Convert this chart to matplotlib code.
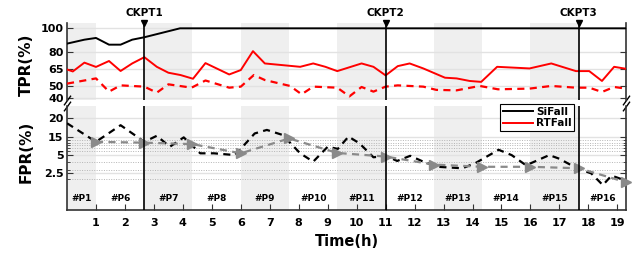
import numpy as np
import matplotlib
matplotlib.use("Agg")
import matplotlib.pyplot as plt
import matplotlib.transforms as mtransforms
from matplotlib.lines import Line2D

# ---- data ----
# periods (hours) and their labels
period_edges = [0, 1.0, 2.67, 4.33, 6.0, 7.67, 9.33, 11.0, 12.67, 14.33, 16.0, 17.67, 19.3]
period_labels = ["#P1", "#P6", "#P7", "#P8", "#P9", "#P10", "#P11",
                 "#P12", "#P13", "#P14", "#P15", "#P16"]
ckpt_x = [2.67, 11.0, 17.67]
ckpt_labels = ["CKPT1", "CKPT2", "CKPT3"]

# TPR, SiFall (black solid)
sifall_t = [0, 0.6, 1.0, 1.45, 1.85, 2.25, 2.67, 3.9, 19.3]
sifall_tpr = [86.8, 90.2, 91.7, 85.9, 85.9, 90.2, 92.3, 100, 100]

# TPR, RTFall (red solid)
rtfall_t = [0, 0.2, 0.6, 1.0, 1.45, 1.85, 2.25, 2.67, 3.1, 3.5, 3.92, 4.35, 4.78,
            5.6, 6.0, 6.42, 6.83, 8.05, 8.5, 8.92, 9.33, 10.17, 10.58, 11.0, 11.42,
            11.83, 12.3, 13.05, 13.45, 13.9, 14.3, 14.85, 15.97, 16.72, 17.57,
            18.03, 18.47, 18.89, 19.3]
rtfall_tpr = [64.5, 62.8, 70.4, 66.7, 71.8, 63.2, 69.7, 75.1, 66.8, 61.7, 59.7, 56.5, 70.0,
              60.2, 64.0, 80.3, 69.7, 66.8, 69.7, 66.8, 63.1, 69.7, 66.8, 59.4, 67.4,
              69.7, 65.4, 57.4, 56.8, 54.6, 53.8, 66.8, 65.4, 69.7, 63.1,
              63.1, 54.6, 66.8, 65.1]

# TPR, red dashed
rtfall2_t = [0, 1.0, 1.45, 1.85, 2.67, 3.1, 3.5, 4.3, 4.78, 5.6, 6.0, 6.45, 6.83, 7.7,
             8.1, 8.5, 9.33, 9.75, 10.17, 10.58, 11.0, 11.42, 12.3, 12.75, 13.45, 14.25,
             14.88, 15.97, 16.72, 17.57, 18.03, 18.47, 18.89, 19.3]
rtfall2_tpr = [52.3, 56.8, 45.4, 50.8, 49.7, 44.5, 51.7, 48.8, 55.0, 48.8, 49.7, 59.7, 55.4, 50.3,
               43.1, 49.7, 48.8, 41.3, 49.4, 45.4, 49.7, 50.8, 49.7, 46.9, 46.5, 50.3,
               47.4, 48.0, 50.3, 48.8, 48.8, 45.1, 49.4, 48.0]

# FPR, black dashed
fpr_t = [0, 1.0, 1.85, 2.67, 3.1, 3.55, 4.03, 4.6, 5.07, 5.8, 6.48, 6.9, 7.45, 8.05, 8.5,
         9.0, 9.35, 9.72, 10.1, 10.58, 11.0, 11.4, 11.85, 12.3, 12.8, 13.65, 14.1, 14.9,
         15.35, 15.85, 16.65, 17.0, 17.6, 18.1, 18.5, 18.8, 19.3]
fpr_val = [18.6, 12.5, 18.1, 12.5, 15.4, 9.7, 15.0, 6.0, 6.0, 5.0, 16.0, 16.9, 15.6, 6.0, 4.1,
           9.7, 8.5, 15.2, 11.6, 4.7, 4.9, 4.2, 4.9, 4.1, 3.4, 3.2, 3.9, 8.0,
           5.0, 3.6, 5.0, 4.5, 3.2, 2.5, 0.9, 2.2, 1.5]

# FPR per period, gray dashed with triangles
fpr_avg_t = [1.0, 2.67, 4.33, 6.0, 7.67, 9.33, 11.0, 12.67, 14.33, 16.0, 17.67, 19.3]
fpr_avg = [12.5, 12.0, 11.2, 6.0, 14.4, 6.2, 4.8, 3.7, 3.4, 3.4, 3.2, 1.3]

tpr_ticks = [40, 50, 65, 80, 100]
fpr_ticks = [2.5, 5, 15, 20]
fpr_minor = [1.7, 3, 4, 7.5, 9, 10.5, 12, 13.5]
x_ticks = list(range(1, 20))

# uneven FPR axis: tick values sit at these positions
fpr_tick_pos = [0, 18.3, 36, 55.6]


def fpr_fwd(v):
    v = np.asarray(v, dtype=float)
    out = np.interp(v, fpr_ticks, fpr_tick_pos)
    lo = (fpr_tick_pos[1] - fpr_tick_pos[0]) / (fpr_ticks[1] - fpr_ticks[0])
    hi = (fpr_tick_pos[-1] - fpr_tick_pos[-2]) / (fpr_ticks[-1] - fpr_ticks[-2])
    out = np.where(v < fpr_ticks[0], fpr_tick_pos[0] + (v - fpr_ticks[0]) * lo, out)
    out = np.where(v > fpr_ticks[-1], fpr_tick_pos[-1] + (v - fpr_ticks[-1]) * hi, out)
    return out


def fpr_inv(p):
    p = np.asarray(p, dtype=float)
    out = np.interp(p, fpr_tick_pos, fpr_ticks)
    lo = (fpr_ticks[1] - fpr_ticks[0]) / (fpr_tick_pos[1] - fpr_tick_pos[0])
    hi = (fpr_ticks[-1] - fpr_ticks[-2]) / (fpr_tick_pos[-1] - fpr_tick_pos[-2])
    out = np.where(p < fpr_tick_pos[0], fpr_ticks[0] + (p - fpr_tick_pos[0]) * lo, out)
    out = np.where(p > fpr_tick_pos[-1], fpr_ticks[-1] + (p - fpr_tick_pos[-1]) * hi, out)
    return out


plt.rcParams['font.family'] = 'DejaVu Sans'
plt.rcParams['font.weight'] = 'bold'

fig = plt.figure(figsize=(6.34, 2.56), dpi=100)
ax_t = fig.add_axes([0.1057, 0.6113, 0.8817, 0.2989])
ax_b = fig.add_axes([0.1057, 0.1797, 0.8817, 0.4062])

spine_col = '#333333'
band_col = '#efefef'
dash = (0, (3.2, 2.4))

for ax in (ax_t, ax_b):
    ax.set_xlim(0, 19.3)
    ax.set_axisbelow(True)
    for i in range(0, len(period_edges) - 1, 2):
        ax.axvspan(period_edges[i], period_edges[i + 1], color=band_col, lw=0, zorder=0.2)
    for s in ('left', 'right'):
        ax.spines[s].set_color(spine_col)
        ax.spines[s].set_linewidth(1.2)
    ax.spines['top'].set_visible(False)
    for c in ckpt_x:
        ax.axvline(c, color='black', lw=1.2, zorder=4)
    ax.tick_params(axis='y', which='both', direction='in', left=True, right=True,
                   labelsize=8, pad=2.5, color=spine_col)
    ax.tick_params(axis='y', which='major', length=4)
    ax.tick_params(axis='y', which='minor', length=2)

# ---- top panel: TPR ----
ax_t.spines['bottom'].set_visible(False)
ax_t.set_ylim(38.6, 104.6)
ax_t.set_yticks(tpr_ticks)
ax_t.set_xticks([])
ax_t.grid(axis='y', color='#e2e2e2', lw=1)
ax_t.plot(sifall_t, sifall_tpr, color='black', lw=1.4, zorder=3)
ax_t.plot(rtfall_t, rtfall_tpr, color='red', lw=1.4, zorder=3)
ax_t.plot(rtfall2_t, rtfall2_tpr, color='red', lw=1.6, ls=dash, zorder=3)

trans = mtransforms.blended_transform_factory(ax_t.transData, ax_t.transAxes)
for c, lab in zip(ckpt_x, ckpt_labels):
    ax_t.plot([c], [1.0], marker='v', color='black', markersize=5, transform=trans,
              clip_on=False, zorder=5)
    ax_t.text(c, 1.125, lab, transform=trans, ha='center', va='center',
              fontsize=7.5, fontweight='bold')

# ---- bottom panel: FPR ----
ax_b.set_yscale('function', functions=(fpr_fwd, fpr_inv))
ax_b.set_ylim(-2.5, 23)
ax_b.set_yticks(fpr_ticks)
ax_b.set_yticklabels(["2.5", "5", "15", "20"])
ax_b.set_yticks(fpr_minor, minor=True)
ax_b.grid(axis='y', which='major', color='#e2e2e2', lw=1)
ax_b.grid(axis='y', which='minor', color='#b5b5b5', lw=0.7, ls=(0, (1, 1.5)))
ax_b.spines['bottom'].set_color(spine_col)
ax_b.spines['bottom'].set_linewidth(1.2)
ax_b.set_xticks(x_ticks)
ax_b.tick_params(axis='x', direction='in', length=4, labelsize=8, pad=6, color=spine_col)

ax_b.plot(fpr_t, fpr_val, color='black', lw=1.6, ls=dash, zorder=3)
ax_b.plot(fpr_avg_t, fpr_avg, color='#8a8a8a', lw=1.6, ls=dash,
          marker='>', markersize=7, clip_on=False, zorder=3)

transb = mtransforms.blended_transform_factory(ax_b.transData, ax_b.transAxes)
for i, lab in enumerate(period_labels):
    mid = (period_edges[i] + period_edges[i + 1]) / 2
    ax_b.text(mid, 0.11, lab, transform=transb, ha='center', va='center',
              fontsize=6.5, fontweight='bold')

# axis break marks
kw = dict(marker=[(-1, -1.4), (1, 1.4)], markersize=7, linestyle='none',
          color='black', mec='black', mew=1, clip_on=False)
ax_t.plot([0, 1], [0, 0], transform=ax_t.transAxes, **kw)
ax_b.plot([0, 1], [1, 1], transform=ax_b.transAxes, **kw)

# labels
fig.text(26 / 634, 1 - 65 / 256, "TPR(%)", rotation=90, ha='center', va='center',
         fontsize=11, fontweight='bold')
fig.text(26 / 634, 1 - 152 / 256, "FPR(%)", rotation=90, ha='center', va='center',
         fontsize=11, fontweight='bold')
fig.text(347 / 634, 1 - 242 / 256, "Time(h)", ha='center', va='center',
         fontsize=10.5, fontweight='bold')

handles = [Line2D([], [], color='black', lw=1.4), Line2D([], [], color='red', lw=1.4)]
leg = fig.legend(handles, ["SiFall", "RTFall"], loc='upper left',
                 bbox_to_anchor=(500 / 634, 1 - 104 / 256), borderaxespad=0,
                 fontsize=7.5, handlelength=2.9, handletextpad=0.3, borderpad=0.25,
                 labelspacing=0.15, fancybox=False, framealpha=1)
leg.get_frame().set_edgecolor('black')
leg.get_frame().set_linewidth(0.8)
leg.set_zorder(10)

fig.savefig("out.png", dpi=100)
